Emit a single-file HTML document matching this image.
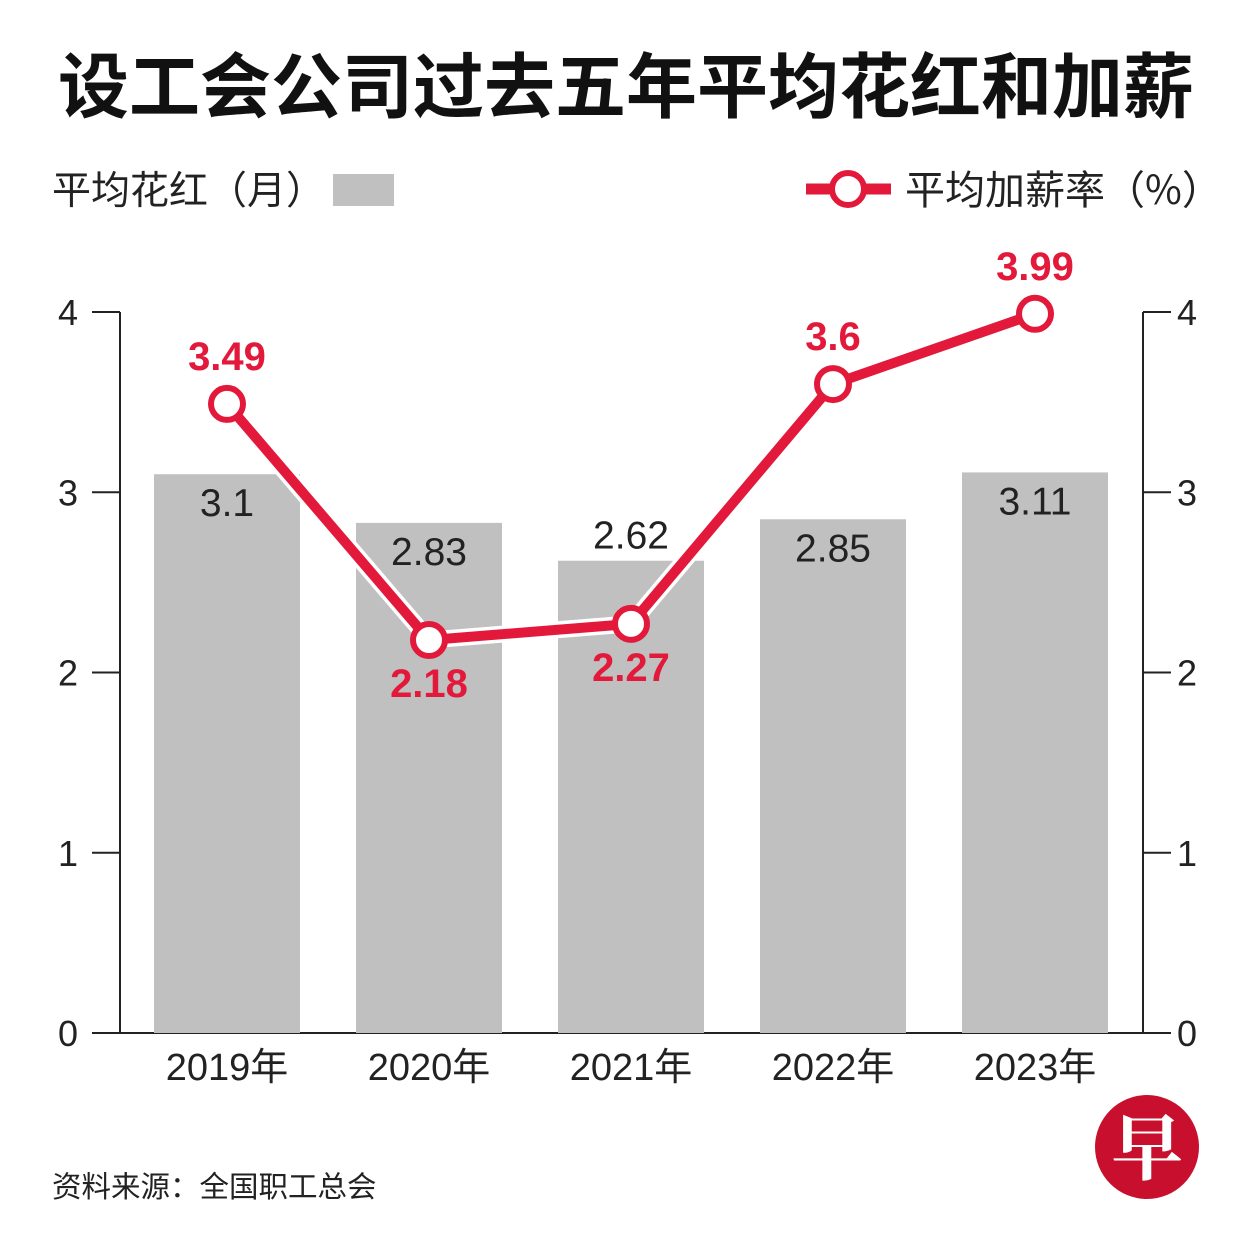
<!DOCTYPE html>
<html><head><meta charset="utf-8"><style>
html,body{margin:0;padding:0;background:#fff;}
svg{display:block;font-family:"Liberation Sans","Noto Sans CJK SC",sans-serif;}
</style></head><body>
<svg id="chart" width="1251" height="1251" viewBox="0 0 1251 1251">
<rect width="1251" height="1251" fill="#fff"/>
<text x="626" y="112" text-anchor="middle" font-size="71" font-weight="bold" fill="#111" font-family="'Noto Sans CJK SC',sans-serif">设工会公司过去五年平均花红和加薪</text>
<g>
<text x="52" y="204" font-size="39" fill="#222" font-family="'Noto Sans CJK SC',sans-serif">平均花红（月）</text>
<rect x="333" y="174" width="61" height="32" fill="#c0c0c0"/>
</g>
<g>
<line x1="806" y1="189" x2="891" y2="189" stroke="#e3193b" stroke-width="11"/>
<circle cx="848" cy="189" r="16" fill="#fff" stroke="#e3193b" stroke-width="6"/>
<text x="905" y="204" font-size="40" fill="#222" font-family="'Noto Sans CJK SC',sans-serif">平均加薪率（%）</text>
</g>
<g id="axes"></g>
<g id="bars"></g>
<g id="line"></g>
<text x="52" y="1197" font-size="29.5" fill="#222" font-family="'Noto Sans CJK SC',sans-serif">资料来源：全国职工总会</text>
<g>
<circle cx="1147" cy="1147" r="52" fill="#c8102e"/>
<text x="1147" y="1174" text-anchor="middle" font-size="72" font-weight="bold" fill="#fff" font-family="'Noto Serif CJK SC',serif">早</text>
</g>
</svg>
<script>
const categories=["2019年","2020年","2021年","2022年","2023年"];
const bonus=[3.1,2.83,2.62,2.85,3.11];
const raise=[3.49,2.18,2.27,3.6,3.99];
const ticks=[0,1,2,3,4];
const bonusLabelAbove=[false,false,true,false,false];
const raiseLabelBelow=[false,true,true,false,false];
const NS="http://www.w3.org/2000/svg";
const y0=1033,unit=180.25,xL=120,xR=1143;
const y=v=>y0-v*unit;
const x=i=>227+i*202;
function mk(tag,attrs,parent,text){const e=document.createElementNS(NS,tag);for(const k in attrs)e.setAttribute(k,attrs[k]);if(text!==undefined)e.textContent=text;parent.appendChild(e);return e;}
const ax=document.getElementById('axes'),bars=document.getElementById('bars'),ln=document.getElementById('line');
let e=mk('line',{x1:xL,y1:y(4),x2:xL,y2:y0,stroke:'#222','stroke-width':2},ax);


e=mk('line',{x1:xR,y1:y(4),x2:xR,y2:y0,stroke:'#222','stroke-width':2},ax);


e=mk('line',{x1:xL,y1:y0,x2:xR,y2:y0,stroke:'#222','stroke-width':2},ax);


ticks.forEach(t=>{
 mk('line',{x1:92,y1:y(t),x2:xL,y2:y(t),stroke:'#222','stroke-width':2},ax);
 mk('line',{x1:xR,y1:y(t),x2:1171,y2:y(t),stroke:'#222','stroke-width':2},ax);
 e=mk('text',{x:78,y:y(t)+13,'text-anchor':'end','font-size':36,fill:'#222'},ax,t);
 
 
 e=mk('text',{x:1177,y:y(t)+13,'font-size':36,fill:'#222'},ax,t);
 
 
});
categories.forEach((c,i)=>{
 e=mk('text',{x:x(i),y:1080,'text-anchor':'middle','font-size':38,fill:'#222','font-family':"'Liberation Sans','Noto Sans CJK SC',sans-serif"},ax,c);
 
 
 e=mk('rect',{x:x(i)-73,y:y(bonus[i]),width:146,height:y0-y(bonus[i]),fill:'#c0c0c0'},bars);
 
 
 const ly=bonusLabelAbove[i]?y(bonus[i])-12:y(bonus[i])+42;
 e=mk('text',{x:x(i),y:ly,'text-anchor':'middle','font-size':39,fill:'#222'},bars,String(bonus[i]));
 
 
});
const pts=raise.map((v,i)=>x(i)+','+y(v)).join(' ');
e=mk('polyline',{points:pts,fill:'none',stroke:'#fff','stroke-width':17,'stroke-linejoin':'round'},ln);
e=mk('polyline',{points:pts,fill:'none',stroke:'#e3193b','stroke-width':10,'stroke-linejoin':'round'},ln);


raise.forEach((v,i)=>{
 e=mk('circle',{cx:x(i),cy:y(v),r:16,fill:'#fff',stroke:'#e3193b','stroke-width':6},ln);
 
 
 const ly=raiseLabelBelow[i]?y(v)+57:y(v)-34;
 e=mk('text',{x:x(i),y:ly,'text-anchor':'middle','font-size':40,'font-weight':'bold',fill:'#e3193b'},ln,String(v));
 
 
});
</script>
</body></html>
